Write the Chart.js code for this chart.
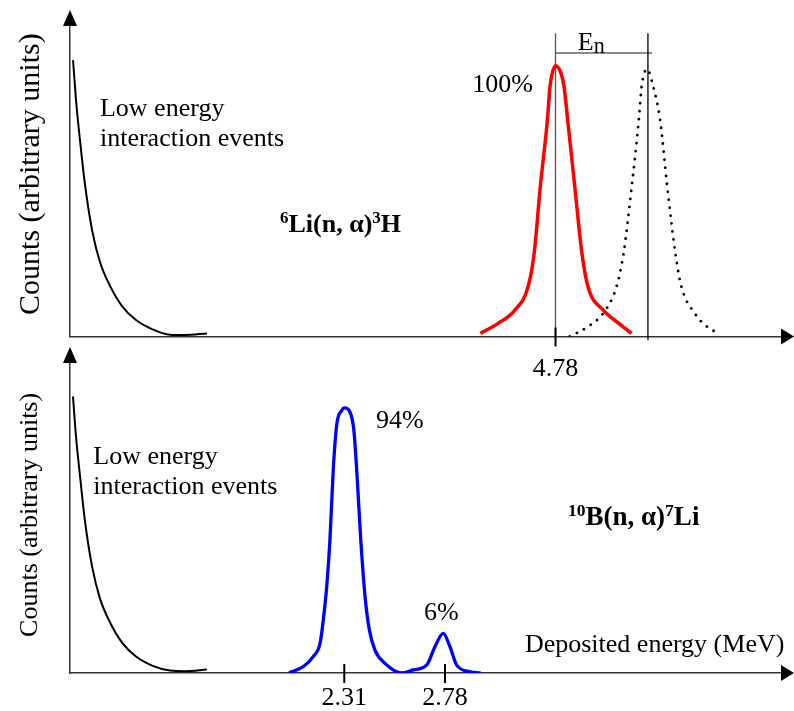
<!DOCTYPE html>
<html>
<head>
<meta charset="utf-8">
<script src="https://cdn.jsdelivr.net/npm/chart.js@4.4.1/dist/chart.umd.min.js"></script>
<style>
  html, body { margin: 0; padding: 0; background: #fff; }
  #wrap { position: relative; width: 794px; height: 711px; }
  #wrap canvas { position: absolute; left: 0; top: 0; }
</style>
</head>
<body>
<div id="wrap">
  <canvas id="top" width="794" height="711" style="width:794px;height:711px"></canvas>
  <canvas id="bot" width="794" height="711" style="width:794px;height:711px"></canvas>
</div>
<script>
// Schematic pulse-height spectra: 6Li(n,α)3H (top) and 10B(n,α)7Li (bottom)
// x = deposited energy (MeV, schematic scale per panel), y = counts in arbitrary units 0..100

// --- top panel ---
const LOW_TOP_E = [0.030, 0.059, 0.098, 0.148, 0.217, 0.295, 0.394, 0.512, 0.650, 0.807, 0.984, 1.132, 1.349];
const LOW_TOP_C = [89.0, 76.2, 63.3, 48.8, 34.3, 24.0, 16.3, 9.8, 5.3, 2.4, 0.6, 0.5, 1.0];
const LI_E = [4.04, 4.22, 4.38, 4.51, 4.57, 4.63, 4.70, 4.726, 4.748, 4.78, 4.834, 4.864, 4.90, 4.97, 5.04, 5.10, 5.25, 5.40, 5.53];
const LI_C = [1.0, 4.3, 8.5, 16.0, 26.8, 48.2, 69.7, 80.5, 84.8, 87.2, 84.8, 80.5, 69.7, 48.2, 26.8, 16.0, 8.5, 4.3, 1.0];
const SHIFT_E = [4.92, 5.10, 5.25, 5.38, 5.45, 5.53, 5.60, 5.628, 5.68, 5.742, 5.81, 5.88, 5.96, 6.02, 6.15, 6.27, 6.40];
const SHIFT_C = [0.0, 3.2, 7.5, 16.0, 26.8, 48.2, 69.7, 80.5, 86.1, 80.5, 69.7, 48.2, 26.8, 16.0, 7.5, 3.2, 0.8];
const TOP_TICKS = [4.78];
const PEAK_LINES_E = [4.78, 5.69];   // thermal peak and peak shifted by En
const PEAK_LINE_TOP = 97.7;
const EN_BAR_E = [4.775, 5.73];
const EN_BAR_C = 91.3;

// --- bottom panel ---
const LOW_BOT_E = [1.044, 1.058, 1.077, 1.100, 1.133, 1.170, 1.217, 1.273, 1.338, 1.413, 1.497, 1.567, 1.669];
const LOW_BOT_C = [89.2, 76.3, 63.4, 48.9, 34.4, 24.0, 16.3, 9.8, 5.3, 2.4, 0.8, 0.6, 1.1];
const B_E = [2.052, 2.119, 2.165, 2.197, 2.212, 2.228, 2.243, 2.259, 2.275, 2.298, 2.31, 2.337, 2.355, 2.371, 2.387, 2.407, 2.427, 2.453, 2.500, 2.578,
             2.632, 2.695, 2.733, 2.772, 2.803, 2.834, 2.897, 2.946];
const B_C = [0.0, 2.1, 5.3, 9.6, 17.1, 27.8, 42.9, 66.2, 80.2, 84.7, 85.5, 84.1, 78.1, 62.0, 42.9, 24.6, 13.9, 7.4, 3.1, 0.0,
             1.0, 2.6, 8.5, 12.8, 8.5, 2.6, 0.4, 0.0];
const BOT_TICKS = [2.31, 2.78];

const SERIF = '"Liberation Serif", "Times New Roman", serif';
const AXIS = '#333';

const pts = (xs, ys) => xs.map((x, i) => ({ x, y: ys[i] }));

function curve(xs, ys, color, width, extra) {
  return Object.assign({
    data: pts(xs, ys), borderColor: color, borderWidth: width,
    pointRadius: 0, cubicInterpolationMode: 'monotone', fill: false
  }, extra || {});
}
function segment(a, b, color, width) {
  return { data: [a, b], borderColor: color, borderWidth: width, pointRadius: 0, tension: 0, clip: false };
}

// scale height is kept large enough that the tick labels are not clipped
function xAxis(min, max, ticks, pad, h) {
  return {
    type: 'linear', min, max,
    afterBuildTicks: s => { s.ticks = ticks.map(v => ({ value: v })); },
    afterFit: s => { s.height = h; },
    grid: { display: false, drawTicks: false },
    border: { color: AXIS, width: 1.5 },
    ticks: { color: '#000', padding: pad, autoSkip: false, maxRotation: 0,
             font: { family: SERIF, size: 26 }, callback: v => v.toFixed(2) }
  };
}
const yAxis = () => ({
  type: 'linear', min: 0, max: 100,
  afterFit: s => { s.width = 0; },
  grid: { display: false, drawTicks: false },
  border: { color: AXIS, width: 1.5 },
  ticks: { display: false }
});

// labels, anchored on the data scales
function drawNote(ctx, chart, n) {
  const px0 = n.px != null ? n.px : chart.scales.x.getPixelForValue(n.x);
  const py = chart.scales.y.getPixelForValue(n.y);
  const parts = n.parts || [{ t: n.text }];
  const size = p => p.sup ? n.size * 0.65 : p.sub ? n.size * 0.85 : n.size;
  const fontOf = p => `${n.bold ? 'bold ' : ''}${size(p)}px ${SERIF}`;
  let w = 0;
  parts.forEach(p => { ctx.font = fontOf(p); w += ctx.measureText(p.t).width; });
  ctx.save();
  ctx.fillStyle = '#000';
  ctx.textBaseline = n.rotate ? 'middle' : 'alphabetic';
  if (n.rotate) {
    ctx.translate(px0, py);
    ctx.rotate(-Math.PI / 2);
    ctx.font = fontOf(parts[0]);
    ctx.textAlign = 'center';
    ctx.fillText(parts[0].t, 0, 0);
    ctx.restore();
    return;
  }
  let px = px0;
  if (n.align === 'right') px -= w;
  else if (n.align === 'center') px -= w / 2;
  parts.forEach(p => {
    ctx.font = fontOf(p);
    const dy = p.sup ? -n.size * 0.34 : p.sub ? n.size * 0.13 : 0;
    ctx.fillText(p.t, px, py + dy);
    px += ctx.measureText(p.t).width;
  });
  ctx.restore();
}

const decor = notes => ({
  id: 'decor',
  afterDatasetsDraw(chart) {
    const { ctx, chartArea: a, scales: { x } } = chart;
    ctx.save();
    ctx.strokeStyle = '#000';
    ctx.lineWidth = 2;
    x.ticks.forEach(t => {
      const px = x.getPixelForValue(t.value);
      ctx.beginPath(); ctx.moveTo(px, a.bottom - 9); ctx.lineTo(px, a.bottom + 10); ctx.stroke();
    });
    // arrowheads
    ctx.fillStyle = '#000';
    ctx.beginPath();
    ctx.moveTo(a.left - 7, a.top); ctx.lineTo(a.left + 7, a.top); ctx.lineTo(a.left, a.top - 16);
    ctx.closePath(); ctx.fill();
    ctx.beginPath();
    ctx.moveTo(a.right, a.bottom - 8); ctx.lineTo(a.right, a.bottom + 8); ctx.lineTo(a.right + 13, a.bottom);
    ctx.closePath(); ctx.fill();
    ctx.restore();
    notes.forEach(n => drawNote(ctx, chart, n));
  }
});

const baseOptions = (padding, xs) => ({
  responsive: false, animation: false, devicePixelRatio: 1,
  layout: { padding },
  plugins: { legend: { display: false }, tooltip: { enabled: false } },
  events: [],
  scales: { x: xs, y: yAxis() }
});

// --- top chart ---
const topNotes = [
  { px: 31, y: 52.3, text: 'Counts (arbitrary units)', size: 30, rotate: true },
  { x: 0.295, y: 71.0, text: 'Low energy', size: 26 },
  { x: 0.295, y: 61.4, text: 'interaction events', size: 26 },
  { x: 2.068, y: 33.7, size: 26, bold: true,
    parts: [{ t: '6', sup: true }, { t: 'Li(n, α)' }, { t: '3', sup: true }, { t: 'H' }] },
  { x: 4.558, y: 78.6, text: '100%', size: 26, align: 'right' },
  { x: 5.0, y: 92.3, size: 26, parts: [{ t: 'E' }, { t: 'n', sub: true }] }
];

new Chart(document.getElementById('top'), {
  type: 'line',
  data: {
    datasets: [
      curve(LOW_TOP_E, LOW_TOP_C, '#000', 2),
      curve(LI_E, LI_C, '#ff0000', 3.5),
      curve(SHIFT_E, SHIFT_C, '#000', 2.8, { borderDash: [0.01, 8], borderCapStyle: 'round' }),
      segment({ x: PEAK_LINES_E[0], y: PEAK_LINE_TOP }, { x: PEAK_LINES_E[0], y: 0 }, '#555', 1.3),
      segment({ x: PEAK_LINES_E[1], y: PEAK_LINE_TOP }, { x: PEAK_LINES_E[1], y: -1.2 }, '#000', 1.3),
      segment({ x: EN_BAR_E[0], y: EN_BAR_C }, { x: EN_BAR_E[1], y: EN_BAR_C }, '#666', 1.5)
    ]
  },
  options: baseOptions({ left: 70, right: 13, top: 26, bottom: 324.5 }, xAxis(0, 7, TOP_TICKS, 17, 50)),
  plugins: [decor(topNotes)]
});

// --- bottom chart ---
const botNotes = [
  { px: 30, y: 51.0, text: 'Counts (arbitrary units)', size: 26, rotate: true },
  { x: 1.139, y: 67.4, text: 'Low energy', size: 26 },
  { x: 1.139, y: 57.7, text: 'interaction events', size: 26 },
  { x: 2.458, y: 79.0, text: '94%', size: 26 },
  { x: 2.682, y: 17.1, text: '6%', size: 26 },
  { x: 3.153, y: 6.9, text: 'Deposited energy (MeV)', size: 26 },
  { x: 3.354, y: 47.7, size: 27, bold: true,
    parts: [{ t: '10', sup: true }, { t: 'B(n, α)' }, { t: '7', sup: true }, { t: 'Li' }] }
];

new Chart(document.getElementById('bot'), {
  type: 'line',
  data: {
    datasets: [
      curve(LOW_BOT_E, LOW_BOT_C, '#000', 2),
      curve(B_E, B_C, '#0000ff', 3.3)
    ]
  },
  options: baseOptions({ left: 70, right: 13, top: 363, bottom: 0 }, xAxis(1.03, 4.348, BOT_TICKS, 9.4, 38)),
  plugins: [decor(botNotes)]
});
</script>
</body>
</html>
